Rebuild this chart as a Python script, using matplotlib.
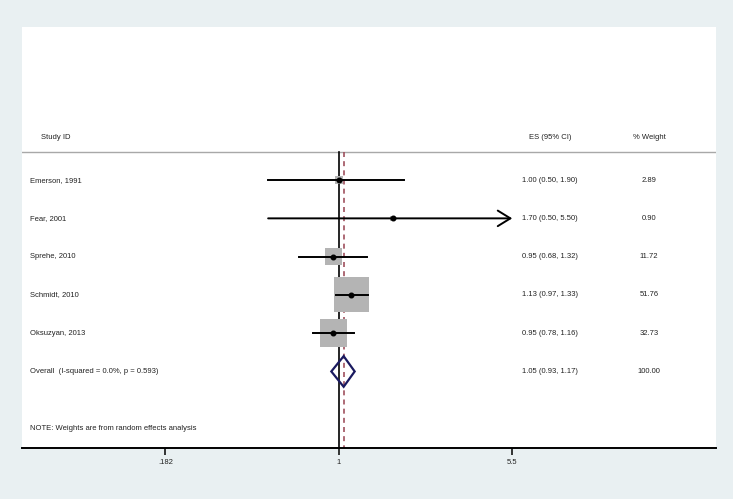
import numpy as np
import matplotlib
matplotlib.use("Agg")
import matplotlib.pyplot as plt
from matplotlib.transforms import blended_transform_factory

plt.rcParams['font.family'] = ['Liberation Sans', 'DejaVu Sans']

studies = ["Emerson, 1991", "Fear, 2001", "Sprehe, 2010", "Schmidt, 2010", "Oksuzyan, 2013"]
es = [1.00, 1.70, 0.95, 1.13, 0.95]
lo = [0.50, 0.50, 0.68, 0.97, 0.78]
hi = [1.90, 5.50, 1.32, 1.33, 1.16]
weight = [2.89, 0.90, 11.72, 51.76, 32.73]
es_text = ["1.00 (0.50, 1.90)", "1.70 (0.50, 5.50)", "0.95 (0.68, 1.32)",
           "1.13 (0.97, 1.33)", "0.95 (0.78, 1.16)"]
w_text = ["2.89", "0.90", "11.72", "51.76", "32.73"]

overall_label = "Overall  (I-squared = 0.0%, p = 0.593)"
overall = (1.05, 0.93, 1.17)
overall_text = "1.05 (0.93, 1.17)"
overall_w = "100.00"

ticks = [0.182, 1, 5.5]
tick_labels = [".182", "1", "5.5"]
arrow_cut = 5.5  # CI truncated here

bg = "#e9f0f2"
fig = plt.figure(figsize=(7.33, 4.99), dpi=100, facecolor=bg)
ax = fig.add_axes([22/733, 1-448/499, 694/733, 421/499])
ax.set_facecolor("white")
ax.set_xscale("log")
ax.set_xlim(0.04456, 40.7)
ax.set_ylim(7.0, -4.0)

rows = np.arange(len(studies))
y_over = len(studies)
y_head = -1.1
y_sep = -0.74
y_note = 6.5

ax.axhline(y_sep, color="#a8a8a8", lw=1.0)
ax.plot([1, 1], [y_sep, 7.0], color="black", lw=1.2, zorder=2)
ax.plot([overall[0]]*2, [y_sep, 7.0], color="#a0505e", lw=1.2,
        ls=(0, (3, 2.5)), zorder=2)

# weight boxes
ax.scatter(es, rows, s=[w * 635 / 51.76 for w in weight], marker="s",
           color="#b4b4b4", lw=0, zorder=3)

for i in rows:
    if hi[i] >= arrow_cut:
        ax.annotate("", xy=(hi[i], i), xytext=(lo[i], i),
                    arrowprops=dict(arrowstyle="->,head_length=0.65,head_width=0.4",
                                    lw=1.4, color="black", shrinkA=0, shrinkB=0,
                                    mutation_scale=14), zorder=4)
    else:
        ax.plot([lo[i], hi[i]], [i, i], color="black", lw=1.4, zorder=4)
ax.plot(es, rows, "o", color="black", ms=3.3, zorder=5)

# overall diamond
e, l, h = overall
ax.fill([l, e, h, e, l], [y_over, y_over - 0.4, y_over, y_over + 0.4, y_over],
        facecolor="none", edgecolor="#1a1a60", lw=1.6, zorder=5)

tr = blended_transform_factory(ax.transAxes, ax.transData)
fs = 5.5
tc = "#222222"
ax.text(0.0274, y_head, "Study ID", transform=tr, fontsize=fs, va="center", color=tc)
ax.text(0.761, y_head, "ES (95% CI)", transform=tr, fontsize=fs, va="center", ha="center", color=tc)
ax.text(0.9035, y_head, "% Weight", transform=tr, fontsize=fs, va="center", ha="center", color=tc)
for i in rows:
    ax.text(0.0115, i, studies[i], transform=tr, fontsize=fs, va="center", color=tc)
    ax.text(0.761, i, es_text[i], transform=tr, fontsize=fs, va="center", ha="center", color=tc)
    ax.text(0.9035, i, w_text[i], transform=tr, fontsize=fs, va="center", ha="center", color=tc)
ax.text(0.0115, y_over, overall_label, transform=tr, fontsize=fs, va="center", color=tc)
ax.text(0.761, y_over, overall_text, transform=tr, fontsize=fs, va="center", ha="center", color=tc)
ax.text(0.9035, y_over, overall_w, transform=tr, fontsize=fs, va="center", ha="center", color=tc)
ax.text(0.0115, y_note, "NOTE: Weights are from random effects analysis", transform=tr,
        fontsize=fs, va="center", color=tc)

for s in ["top", "left", "right"]:
    ax.spines[s].set_visible(False)
ax.spines["bottom"].set_linewidth(1.4)
ax.set_yticks([])
ax.set_xticks(ticks)
ax.set_xticklabels(tick_labels)
ax.minorticks_off()
ax.tick_params(axis="x", length=5, width=1.1, pad=3, labelsize=fs, labelcolor=tc)

fig.savefig("out.png", dpi=100, facecolor=bg)
